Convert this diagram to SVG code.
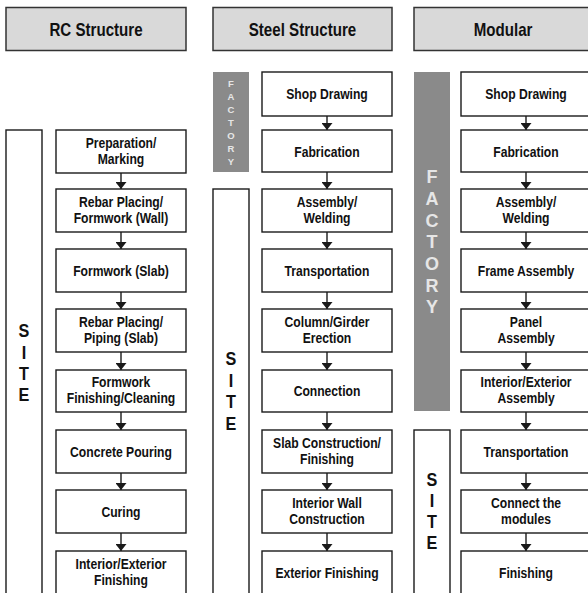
<svg xmlns="http://www.w3.org/2000/svg" width="588" height="593" viewBox="0 0 588 593">
<defs>
<style>
text{font-family:"Liberation Sans",Arial,sans-serif;font-weight:bold;text-anchor:middle;fill:#111}
.hdr rect{fill:#d9d9d9;stroke:#333;stroke-width:1.5}
.hdr text{font-size:18px;transform-box:fill-box;transform-origin:center;transform:scaleX(0.84)}
.box rect{fill:#fff;stroke:#1a1a1a;stroke-width:1.4}
.box text{font-size:15px;transform-box:fill-box;transform-origin:center;transform:scaleX(0.81)}
.site rect{fill:#fff;stroke:#1a1a1a;stroke-width:1.4}
.site text{font-size:18px;transform-box:fill-box;transform-origin:center;transform:scaleX(0.9)}
.fac rect{fill:#8a8a8a;stroke:none}
.fac text{fill:#e6e6e6}
.big text{font-size:18px}
.small text{font-size:9.5px}
.conn line{stroke:#1a1a1a;stroke-width:1.4;marker-end:url(#ah)}
</style>
<marker id="ah" markerUnits="userSpaceOnUse" markerWidth="7" markerHeight="11" viewBox="0 0 7 11" refX="7" refY="5.5" orient="auto">
<path d="M0,0 L7,5.5 L0,11 z" fill="#1a1a1a"/>
</marker>
</defs>
<rect width="588" height="593" fill="#fff"/>

<!-- Headers -->
<g id="hdr-rc" class="hdr"><rect x="6" y="7.5" width="180" height="43"/><text x="96" y="36">RC Structure</text></g>
<g id="hdr-steel" class="hdr"><rect x="213" y="7.5" width="179" height="43"/><text x="302.5" y="36">Steel Structure</text></g>
<g id="hdr-mod" class="hdr"><rect x="414" y="7.5" width="179" height="43"/><text x="503" y="36">Modular</text></g>

<!-- Side labels -->
<g id="site-rc" class="site"><rect x="6" y="130" width="36" height="470"/>
<text x="24" y="337">S</text><text x="24" y="359">I</text><text x="24" y="380">T</text><text x="24" y="401">E</text></g>
<g id="factory-steel" class="fac small"><rect x="213" y="72" width="36" height="100"/>
<text x="231" y="86.5">F</text><text x="231" y="99.5">A</text><text x="231" y="112.5">C</text><text x="231" y="125.5">T</text><text x="231" y="139">O</text><text x="231" y="152">R</text><text x="231" y="165">Y</text></g>
<g id="site-steel" class="site"><rect x="213" y="189" width="36" height="410"/>
<text x="231" y="365">S</text><text x="231" y="387">I</text><text x="231" y="408">T</text><text x="231" y="430">E</text></g>
<g id="factory-mod" class="fac big"><rect x="414" y="72" width="36" height="339"/>
<text x="432" y="183">F</text><text x="432" y="205">A</text><text x="432" y="227">C</text><text x="432" y="248">T</text><text x="432" y="270">O</text><text x="432" y="292">R</text><text x="432" y="313">Y</text></g>
<g id="site-mod" class="site"><rect x="414" y="430" width="36" height="170"/>
<text x="432" y="486">S</text><text x="432" y="507">I</text><text x="432" y="528">T</text><text x="432" y="549">E</text></g>

<!-- RC boxes -->
<g id="rc1" class="box"><rect x="56" y="130" width="130" height="43"/><text x="121" y="148">Preparation/</text><text x="121" y="164">Marking</text></g>
<g id="rc2" class="box"><rect x="56" y="189" width="130" height="43"/><text x="121" y="207">Rebar Placing/</text><text x="121" y="223">Formwork (Wall)</text></g>
<g id="rc3" class="box"><rect x="56" y="249" width="130" height="43"/><text x="121" y="276">Formwork  (Slab)</text></g>
<g id="rc4" class="box"><rect x="56" y="309" width="130" height="43"/><text x="121" y="327">Rebar Placing/</text><text x="121" y="343">Piping (Slab)</text></g>
<g id="rc5" class="box"><rect x="56" y="370" width="130" height="42"/><text x="121" y="387.5">Formwork</text><text x="121" y="403.5">Finishing/Cleaning</text></g>
<g id="rc6" class="box"><rect x="56" y="430" width="130" height="43"/><text x="121" y="457">Concrete Pouring</text></g>
<g id="rc7" class="box"><rect x="56" y="490" width="130" height="43"/><text x="121" y="517">Curing</text></g>
<g id="rc8" class="box"><rect x="56" y="551" width="130" height="48"/><text x="121" y="569">Interior/Exterior</text><text x="121" y="585">Finishing</text></g>

<!-- Steel boxes -->
<g id="st1" class="box"><rect x="262" y="72" width="130" height="44"/><text x="327" y="99">Shop Drawing</text></g>
<g id="st2" class="box"><rect x="262" y="130" width="130" height="42"/><text x="327" y="157">Fabrication</text></g>
<g id="st3" class="box"><rect x="262" y="189" width="130" height="43"/><text x="327" y="207">Assembly/</text><text x="327" y="223">Welding</text></g>
<g id="st4" class="box"><rect x="262" y="249" width="130" height="43"/><text x="327" y="276">Transportation</text></g>
<g id="st5" class="box"><rect x="262" y="309" width="130" height="43"/><text x="327" y="327">Column/Girder</text><text x="327" y="343">Erection</text></g>
<g id="st6" class="box"><rect x="262" y="370" width="130" height="42"/><text x="327" y="396.5">Connection</text></g>
<g id="st7" class="box"><rect x="262" y="430" width="130" height="43"/><text x="327" y="448">Slab Construction/</text><text x="327" y="464">Finishing</text></g>
<g id="st8" class="box"><rect x="262" y="490" width="130" height="43"/><text x="327" y="508">Interior Wall</text><text x="327" y="524">Construction</text></g>
<g id="st9" class="box"><rect x="262" y="551" width="130" height="48"/><text x="327" y="578">Exterior Finishing</text></g>

<!-- Modular boxes -->
<g id="md1" class="box"><rect x="461" y="72" width="131" height="44"/><text x="526" y="99">Shop Drawing</text></g>
<g id="md2" class="box"><rect x="461" y="130" width="131" height="42"/><text x="526" y="157">Fabrication</text></g>
<g id="md3" class="box"><rect x="461" y="189" width="131" height="43"/><text x="526" y="207">Assembly/</text><text x="526" y="223">Welding</text></g>
<g id="md4" class="box"><rect x="461" y="249" width="131" height="43"/><text x="526" y="276">Frame Assembly</text></g>
<g id="md5" class="box"><rect x="461" y="309" width="131" height="43"/><text x="526" y="327">Panel</text><text x="526" y="343">Assembly</text></g>
<g id="md6" class="box"><rect x="461" y="370" width="131" height="42"/><text x="526" y="387.5">Interior/Exterior</text><text x="526" y="403.5">Assembly</text></g>
<g id="md7" class="box"><rect x="461" y="430" width="131" height="43"/><text x="526" y="457">Transportation</text></g>
<g id="md8" class="box"><rect x="461" y="490" width="131" height="43"/><text x="526" y="508">Connect the</text><text x="526" y="524">modules</text></g>
<g id="md9" class="box"><rect x="461" y="551" width="131" height="48"/><text x="526" y="578">Finishing</text></g>

<!-- Connectors -->
<g id="connectors" class="conn">
<line x1="121" y1="173" x2="121" y2="189"/>
<line x1="121" y1="232" x2="121" y2="249"/>
<line x1="121" y1="292" x2="121" y2="309"/>
<line x1="121" y1="352" x2="121" y2="370"/>
<line x1="121" y1="412" x2="121" y2="430"/>
<line x1="121" y1="473" x2="121" y2="490"/>
<line x1="121" y1="533" x2="121" y2="551"/>
<line x1="327" y1="116" x2="327" y2="130"/>
<line x1="327" y1="172" x2="327" y2="189"/>
<line x1="327" y1="232" x2="327" y2="249"/>
<line x1="327" y1="292" x2="327" y2="309"/>
<line x1="327" y1="352" x2="327" y2="370"/>
<line x1="327" y1="412" x2="327" y2="430"/>
<line x1="327" y1="473" x2="327" y2="490"/>
<line x1="327" y1="533" x2="327" y2="551"/>
<line x1="526" y1="116" x2="526" y2="130"/>
<line x1="526" y1="172" x2="526" y2="189"/>
<line x1="526" y1="232" x2="526" y2="249"/>
<line x1="526" y1="292" x2="526" y2="309"/>
<line x1="526" y1="352" x2="526" y2="370"/>
<line x1="526" y1="412" x2="526" y2="430"/>
<line x1="526" y1="473" x2="526" y2="490"/>
<line x1="526" y1="533" x2="526" y2="551"/>
</g>
</svg>
